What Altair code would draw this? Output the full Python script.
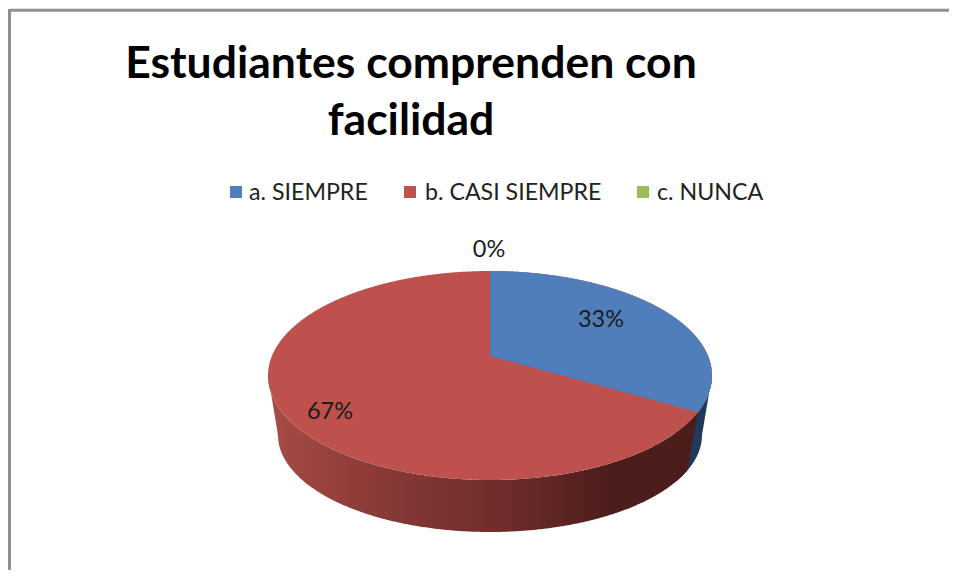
import numpy as np
import pandas as pd
import altair as alt

# Values
categories = ["a. SIEMPRE", "b. CASI SIEMPRE", "c. NUNCA"]
percent = [33, 67, 0]
colors = ["#4F7EBB", "#BE504D", "#9BBB59"]
title_lines = ["Estudiantes comprenden con", "facilidad"]

# Pie geometry (screen pixels, mapped through the x / y scales below)
CX, CY, A, B = 490.0, 375.5, 222.0, 104.5      # top face ellipse
APEX_Y = 356.0                                  # perspective shifts the apex upward
LX, LY, LA, LB = 490.0, 435.0, 212.0, 97.0      # bottom rim ellipse
PERSPECTIVE = 0.93                              # foreshortening of the slice angle

W, H = 941, 562
xs = alt.Scale(domain=[8, 949], nice=False, zero=False)
ys = alt.Scale(domain=[570, 8], nice=False, zero=False)


def top_upper(x):
    return CY - B * np.sqrt(np.clip(1 - ((x - CX) / A) ** 2, 0, 1))


def top_lower(x):
    return CY + B * np.sqrt(np.clip(1 - ((x - CX) / A) ** 2, 0, 1))


def rim_lower(x):
    return LY + LB * np.sqrt(np.clip(1 - ((x - LX) / LA) ** 2, 0, 1))


def sweep(x0, x1, n=240):
    t = np.linspace(0, np.pi, n)
    return x0 + (x1 - x0) * (1 - np.cos(t)) / 2


def area(x, y, y2, fill):
    df = pd.DataFrame({"x": x, "y": y, "y2": y2})
    return alt.Chart(df).mark_area(fill=fill, interpolate="linear").encode(
        x=alt.X("x:Q", scale=xs, axis=None),
        y=alt.Y("y:Q", scale=ys, axis=None),
        y2="y2:Q",
    )


def text(s, px, py, size, weight="normal", align="center", color="#1c1c1c"):
    return alt.Chart(pd.DataFrame({"t": [s]})).mark_text(
        font="Lato", fontSize=size, fontWeight=weight, align=align,
        baseline="middle", color=color,
    ).encode(x=alt.value(px - 8), y=alt.value(py - 8), text="t:N")


# Edge between the blue and red slices, from the value of the first slice
theta = 2 * np.pi * percent[0] / 100 * PERSPECTIVE
edge_x = CX + A * np.sin(theta)
edge_y = CY - B * np.cos(theta)


# Side wall
def wall_bottom(x):
    y = rim_lower(x).copy()
    lx = LX - LA
    rx = LX + LA
    y = np.where(x < lx, CY + (LY - CY) * (x - (CX - A)) / (lx - (CX - A)), y)
    y = np.where(x > rx, CY + (LY - CY) * ((CX + A) - x) / ((CX + A) - rx), y)
    return y


x_blue = sweep(675, CX + A)
blue_wall = area(x_blue, top_lower(x_blue), wall_bottom(x_blue), "#1F3A5A")

x_red = sweep(CX - A, edge_x, 400)
seam_x, seam_y = 687.0, 472.0
seam = edge_y + (edge_x - x_red) * (seam_y - edge_y) / (edge_x - seam_x)
red_bot = np.minimum(wall_bottom(x_red), np.where(x_red > seam_x, seam, 1e9))
red_grad = alt.Gradient(
    gradient="linear", x1=0, x2=1, y1=0, y2=0,
    stops=[
        alt.GradientStop(color="#A84B47", offset=0.0),
        alt.GradientStop(color="#8A3A37", offset=0.25),
        alt.GradientStop(color="#6E2C2B", offset=0.55),
        alt.GradientStop(color="#4C1D1B", offset=0.8),
        alt.GradientStop(color="#4A1C1A", offset=1.0),
    ],
)
red_wall = area(x_red, top_lower(x_red), red_bot, red_grad)

# Top face
x_top = sweep(CX - A, CX + A, 500)
red_top = area(x_top, top_upper(x_top), top_lower(x_top), colors[1])

x_b = sweep(CX, CX + A, 400)
b_low = np.where(
    x_b <= edge_x,
    APEX_Y + (x_b - CX) * (edge_y - APEX_Y) / (edge_x - CX),
    top_lower(x_b),
)
blue_top = area(x_b, top_upper(x_b), b_low, colors[0])

layers = [blue_wall, red_wall, red_top, blue_top]

# Frame
frame_color = "#8F8F8F"
layers.append(alt.Chart(pd.DataFrame({"a": [0]})).mark_rule(color=frame_color, strokeWidth=3).encode(
    x=alt.value(10 - 8), x2=alt.value(W), y=alt.value(10.3 - 8)))
layers.append(alt.Chart(pd.DataFrame({"a": [0]})).mark_rule(color=frame_color, strokeWidth=3).encode(
    x=alt.value(9.5 - 8), y=alt.value(9 - 8), y2=alt.value(H)))

# Title
layers.append(text(title_lines[0], 411, 65, 44.5, "bold", color="#000000"))
layers.append(text(title_lines[1], 411, 122, 44.5, "bold", color="#000000"))

# Legend
legend_sq_x = [236, 410, 643]
legend_tx_x = [249, 425, 657]
for cat, col, sx, tx in zip(categories, colors, legend_sq_x, legend_tx_x):
    layers.append(alt.Chart(pd.DataFrame({"a": [0]})).mark_square(color=col, size=144, opacity=1).encode(
        x=alt.value(sx - 8), y=alt.value(192 - 8)))
    layers.append(text(cat, tx, 193, 23.2, align="left", color="#222222"))

# Data labels
label_pos = [(601, 320), (330, 412), (489, 250)]
for p, (lx, ly) in zip(percent, label_pos):
    layers.append(text(f"{p}%", lx, ly, 23.5))

chart = alt.layer(*layers).properties(
    width=W, height=H, padding=0, autosize="none", background="white"
).configure_view(stroke=None)

chart.save("out.html", embed_options={"renderer": "svg", "actions": False})
